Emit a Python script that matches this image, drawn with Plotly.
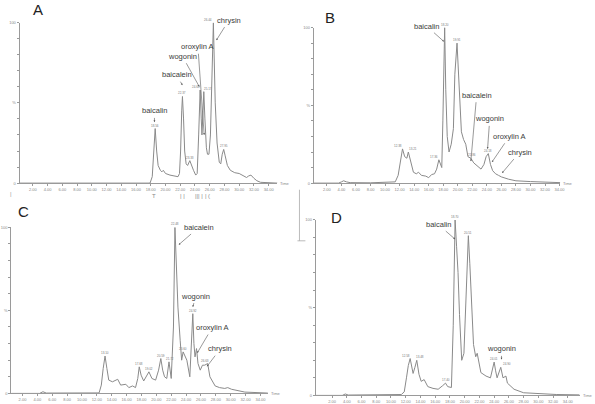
import plotly.graph_objects as go

# ---------------- data (retention time in min, relative intensity in %) ----------------
A_t = [0.2, 17.9, 18.2, 18.4, 18.6, 18.8, 19.0, 19.3, 19.5, 19.7, 20.0, 20.6, 21.2, 21.7, 21.9, 22.05, 22.2, 22.3,
       22.45, 22.6, 22.8, 23.0, 23.3, 23.5, 23.8, 24.1, 24.3, 24.5, 24.7, 24.85, 24.95, 25.1, 25.2, 25.35, 25.55,
       25.7, 25.9, 26.1, 26.3, 26.5, 26.75, 27.0, 27.3, 27.5, 27.7, 27.9, 28.1, 28.4, 28.8, 29.4, 30.0, 30.6, 31.0,
       31.3, 31.6, 32.0, 32.4, 32.9, 35.2]
A_y = [0, 0, 4, 20, 34, 20, 11, 8, 7, 8, 6, 5, 4.5, 4, 6, 20, 45, 54,
       40, 20, 12, 11, 14, 11, 8, 5, 6, 30, 58, 40, 30, 45, 57, 40, 22,
       18, 18, 30, 75, 100, 50, 25, 13, 12, 18, 21, 17, 11, 8, 6.5, 6, 4.5, 3.5,
       4.5, 5, 3, 1.5, 0.5, 0]

B_t = [0.2, 3.6, 4.0, 4.3, 4.7, 5.2, 8.0, 11.4, 11.8, 12.1, 12.4, 12.7, 13.0, 13.2, 13.5, 13.9, 14.3, 14.6, 15.0,
       15.6, 16.0, 16.4, 16.8, 17.1, 17.4, 17.6, 17.8, 17.95, 18.1, 18.2, 18.35, 18.55, 18.8, 19.1, 19.4, 19.6,
       19.9, 20.1, 20.3, 20.5, 20.8, 21.1, 21.4, 21.8, 22.2, 22.7, 23.2, 23.6, 23.9, 24.2, 24.5, 24.8, 25.2, 25.6,
       26.0, 27.0, 28.0, 30.0, 32.0, 34.1]
B_y = [0, 0, 0.8, 1.5, 0.8, 0.3, 0.2, 0.8, 5, 15, 22, 17, 16, 20, 14, 7, 6, 7, 5,
       4.5, 3.5, 5.5, 6, 9, 15, 12, 10, 40, 85, 100, 60, 30, 20, 25, 35, 70,
       90, 70, 45, 33, 28, 25, 17, 16, 13, 11, 9, 12, 17, 19, 12, 8, 6, 5,
       4, 2.5, 1.5, 1, 0.6, 0.3]

C_t = [0.5, 4.3, 4.75, 5.2, 12.3, 12.6, 12.85, 13.1, 13.35, 13.6, 14.1, 14.8, 15.2, 15.9, 16.3, 16.8, 17.2, 17.5,
       17.7, 17.95, 18.3, 19.0, 19.4, 19.9, 20.3, 20.6, 20.85, 21.1, 21.4, 21.7, 22.0, 22.3, 22.5, 22.7, 22.9,
       23.2, 23.4, 23.6, 24.1, 24.5, 24.75, 24.9, 25.05, 25.2, 25.4, 25.6, 25.9, 26.2, 26.5, 26.9, 27.2, 27.9,
       28.5, 29.2, 29.6, 30.1, 31.9, 35.0]
C_y = [0, 0, 1, 0.2, 0.3, 5, 15, 22.5, 15, 8, 7, 8.5, 5, 5.5, 3.5, 4.5, 3.5, 9,
       16, 11, 7.5, 13, 9, 8, 14, 21, 14, 10, 9, 19, 9, 40, 100, 75, 52,
       32, 20, 25, 20, 10, 30, 48, 30, 22, 27, 18, 14, 17, 17, 18, 10, 4.5,
       3.5, 3, 3.5, 2.5, 0.8, 0.2]

D_t = [-0.2, 3.4, 3.8, 4.2, 11.4, 11.8, 12.1, 12.35, 12.6, 12.8, 13.0, 13.25, 13.5, 13.8, 14.1, 14.5, 15.0, 15.7,
       16.4, 17.0, 17.4, 17.7, 18.2, 18.45, 18.7, 18.9, 19.1, 19.3, 19.6, 19.9, 20.2, 20.5, 20.7, 20.9, 21.2,
       21.5, 21.7, 22.2, 22.9, 23.5, 23.8, 24.0, 24.2, 24.4, 24.9, 25.2, 25.6, 25.8, 26.7, 28.0, 32.5, 35.6]
D_y = [0, 0, 0.8, 0.2, 0.5, 2, 10, 17, 21, 17, 12.5, 16, 20, 12, 8, 9, 5, 4,
       3.5, 5.5, 7, 5, 4.5, 40, 100, 85, 70, 46, 20, 24, 60, 91, 75, 55, 29,
       22, 24, 13, 11, 10, 15, 19, 14, 10, 16, 10, 11, 7, 3.5, 1.5, 0.5, 0.3]

panels = {
    "A": (A_t, A_y),
    "B": (B_t, B_y),
    "C": (C_t, C_y),
    "D": (D_t, D_y),
}

# retention-time labels: (panel, time, peak height, text, anchor)
rt_labels = [
    ("A", 18.6, 34, "18.56", "center"), ("A", 22.3, 54, "22.37", "center"), ("A", 23.3, 14, "23.33", "center"),
    ("A", 24.8, 58, "24.65", "right"), ("A", 25.15, 57, "25.17", "left"), ("A", 26.4, 100, "26.44", "right"),
    ("A", 27.9, 21, "27.95", "center"),
    ("B", 12.5, 22, "12.38", "right"), ("B", 13.1, 20, "13.21", "left"), ("B", 17.4, 15, "17.36", "right"),
    ("B", 18.2, 100, "18.20", "center"), ("B", 19.9, 90, "19.91", "center"), ("B", 21.9, 16, "21.86", "center"),
    ("B", 24.2, 19, "24.18", "center"),
    ("C", 13.1, 22.5, "13.10", "center"), ("C", 17.7, 16, "17.68", "center"), ("C", 19.0, 13, "19.02", "center"),
    ("C", 20.6, 21, "20.59", "center"), ("C", 21.8, 19, "21.72", "center"), ("C", 22.5, 100, "22.48", "center"),
    ("C", 23.6, 25, "23.60", "center"), ("C", 24.9, 48, "24.92", "center"), ("C", 26.6, 18, "26.63", "center"),
    ("D", 12.7, 21, "12.58", "right"), ("D", 13.3, 20, "13.48", "left"), ("D", 17.4, 7, "17.40", "center"),
    ("D", 18.7, 100, "18.70", "center"), ("D", 20.5, 91, "20.51", "center"), ("D", 24.0, 19, "24.01", "center"),
    ("D", 25.0, 16, "24.90", "left"),
]

# compound labels: (panel, name, arrow-head time, arrow-head %, text time, text %)
compound_labels = [
    ("A", "baicalin", 18.5, 38, 18.5, 45),
    ("A", "baicalein", 22.3, 61, 21.5, 67.5),
    ("A", "wogonin", 24.6, 60, 22.3, 79),
    ("A", "oroxylin A", 25.25, 30, 24.4, 85),
    ("A", "chrysin", 26.9, 89, 28.6, 101.5),
    ("B", "baicalin", 18.1, 91, 15.7, 101),
    ("B", "baicalein", 21.8, 14, 22.6, 56.5),
    ("B", "wogonin", 24.1, 22, 24.4, 41.3),
    ("B", "oroxylin A", 24.7, 13.5, 27.1, 30),
    ("B", "chrysin", 26.1, 6.5, 28.5, 19.8),
    ("C", "baicalein", 23.0, 89.5, 25.7, 100),
    ("C", "wogonin", 24.9, 52, 25.3, 58.6),
    ("C", "oroxylin A", 25.5, 24.4, 27.5, 39.6),
    ("C", "chrysin", 26.8, 16.2, 28.6, 26.8),
    ("D", "baicalin", 18.7, 89, 16.4, 97.4),
    ("D", "wogonin", 25.0, 20.4, 25.0, 26.5),
]

x_tickvals = [2, 4, 6, 8, 10, 12, 14, 16, 18, 20, 22, 24, 26, 28, 30, 32, 34]
x_ticktext = ["2.00", "4.00", "6.00", "8.00", "10.00", "12.00", "14.00", "16.00", "18.00", "20.00",
              "22.00", "24.00", "26.00", "28.00", "30.00", "32.00", "34.00"]
y_tickvals = [0, 10, 20, 30, 40, 50, 60, 70, 80, 90, 100]
y_ticktext = ["0", "", "", "", "", "%", "", "", "", "", "100"]

# ---------------- layout geometry ----------------
geom = {
    # panel: (axis suffix, x range, x domain, y domain, letter position)
    "A": ("", [0.2, 35.2], [0.0333, 0.4703], [0.5463, 0.9505], (0.064, 0.983)),
    "B": ("2", [0.2, 34.1], [0.5319, 0.9496], [0.5463, 0.9381], (0.560, 0.963)),
    "C": ("3", [0.5, 35.0], [0.0192, 0.4541], [0.0166, 0.4349], (0.039, 0.475)),
    "D": ("4", [-0.2, 35.6], [0.5353, 0.9824], [0.0116, 0.4537], (0.570, 0.460)),
}

LINE = "#8a8a8a"
AXIS = "#9a9a9a"
TXT = "#3a3a3a"
NARROW = "Liberation Sans Narrow, Liberation Sans, Arial, sans-serif"

fig = go.Figure()
layout = dict(
    width=595, height=404, margin=dict(l=0, r=0, t=0, b=0),
    paper_bgcolor="white", plot_bgcolor="white", showlegend=False,
    font=dict(family="Liberation Sans, Arial, sans-serif", color=TXT),
)
annotations = []

for name, (t, y) in panels.items():
    suf, xr, xd, yd, letter = geom[name]
    fig.add_trace(go.Scatter(x=t, y=y, mode="lines", line=dict(color=LINE, width=1),
                             xaxis="x" + suf, yaxis="y" + suf, hoverinfo="skip"))
    layout["xaxis" + suf] = dict(
        domain=xd, range=xr, anchor="y" + suf, showgrid=False, zeroline=False,
        showline=True, linecolor=AXIS, linewidth=1, ticks="outside", ticklen=2, tickcolor=AXIS,
        tickvals=x_tickvals, ticktext=x_ticktext, tickfont=dict(size=4, color="#888"),
    )
    layout["yaxis" + suf] = dict(
        domain=yd, range=[0, 100], anchor="x" + suf, showgrid=False, zeroline=False,
        showline=True, linecolor=AXIS, linewidth=1, ticks="outside", ticklen=2, tickcolor=AXIS,
        tickvals=y_tickvals, ticktext=y_ticktext, tickfont=dict(size=4, color="#888"),
    )
    annotations.append(dict(text=name, xref="paper", yref="paper", x=letter[0], y=letter[1],
                            showarrow=False, xanchor="center", yanchor="middle",
                            font=dict(size=15, color="#222", family="Liberation Sans, Arial, sans-serif")))
    annotations.append(dict(text="Time", xref="x" + suf + " domain", yref="y" + suf + " domain",
                            x=1.0, y=0.0, xanchor="left", yanchor="middle", xshift=1,
                            showarrow=False, font=dict(size=4, color="#888")))

for panel, t, h, txt, anc in rt_labels:
    suf = geom[panel][0]
    annotations.append(dict(text=txt, xref="x" + suf, yref="y" + suf + " domain", x=t, y=h / 100.0,
                            xanchor=anc, yanchor="bottom", showarrow=False, borderpad=0,
                            font=dict(size=3, color="#777")))

for panel, label, hx, hy, tx, ty in compound_labels:
    suf = geom[panel][0]
    annotations.append(dict(text=label, xref="x" + suf, yref="y" + suf, x=hx, y=hy,
                            axref="x" + suf, ayref="y" + suf, ax=tx, ay=ty,
                            showarrow=True, arrowhead=2, arrowsize=0.6, arrowwidth=0.6,
                            arrowcolor="#555", standoff=0, startstandoff=1,
                            font=dict(size=7.5, color=TXT, family=NARROW)))

# small fraction-collector marks under panel A
marks_A = [(18.5, "T"), (22.3, "| |"), (24.5, "||| |"), (25.5, "|"), (25.9, "(")]
for t, m in marks_A:
    annotations.append(dict(text=m, xref="x", yref="y domain", x=t, y=-0.05, yanchor="top",
                            showarrow=False, font=dict(size=6, color="#888")))
annotations.append(dict(text="|", xref="paper", yref="paper", x=8 / 595, y=1 - 194 / 404,
                        showarrow=False, font=dict(size=6, color="#999")))

layout["annotations"] = annotations
layout["shapes"] = [
    dict(type="line", xref="paper", yref="paper", x0=302 / 595, x1=302 / 595, y0=1 - 190 / 404,
         y1=1 - 242 / 404, line=dict(color="#aaa", width=0.8)),
    dict(type="line", xref="paper", yref="paper", x0=300 / 595, x1=308 / 595, y0=1 - 242 / 404,
         y1=1 - 242 / 404, line=dict(color="#aaa", width=0.8)),
]
fig.update_layout(**layout)
fig.write_html("out.html")
